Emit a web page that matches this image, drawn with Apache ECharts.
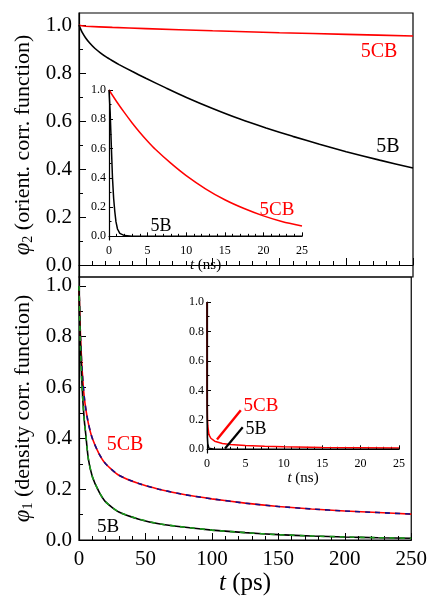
<!DOCTYPE html>
<html><head><meta charset="utf-8">
<script src="https://cdn.jsdelivr.net/npm/echarts@6/dist/echarts.min.js"></script>
<style>html,body{margin:0;padding:0;background:#fff}#c{width:430px;height:599px}</style>
</head><body><div id="c"></div>
<script>
// ---- data: top panel, orientational correlation (t in ps) ----
const tTop5B  = [0, 1, 2.5, 5, 8, 12, 16, 20, 25, 30, 40, 50, 65, 80, 100, 120, 140, 160, 180, 200, 225, 250];
const phi2_5B = [1.0, 0.986, 0.968, 0.946, 0.925, 0.902, 0.884, 0.868, 0.851, 0.835, 0.806, 0.778, 0.738, 0.699, 0.652, 0.609, 0.571, 0.536, 0.503, 0.472, 0.437, 0.404];
const tTop5CB  = [0, 1, 5, 25, 50, 100, 150, 200, 250];
const phi2_5CB = [1.0, 0.998, 0.995, 0.99, 0.985, 0.976, 0.968, 0.961, 0.954];
// inset (t in ns)
const tInTop5B  = [0, 0.15, 0.3, 0.45, 0.6, 0.75, 0.9, 1.1, 1.4, 2, 3, 5, 10, 15, 20, 25];
const phi2ns_5B = [1.0, 0.85, 0.62, 0.4, 0.26, 0.17, 0.1, 0.05, 0.02, 0.005, 0, 0, 0, 0, 0, 0];
const tInTop5CB  = [0, 1, 2, 3, 4, 5, 6, 8, 10, 12.5, 15, 17.5, 20, 22.5, 25];
const phi2ns_5CB = [1.0, 0.92, 0.845, 0.775, 0.71, 0.65, 0.595, 0.5, 0.415, 0.325, 0.25, 0.19, 0.14, 0.1, 0.07];

// ---- data: bottom panel, density correlation (t in ps) ----
const tBot = [0, 0.5, 1, 2, 3, 4, 5, 7, 10, 15, 20, 30, 45, 60, 80, 100, 125, 150, 175, 200, 225, 250];
const phi1_5CB = [1.0, 0.9, 0.82, 0.7, 0.62, 0.56, 0.52, 0.46, 0.4, 0.34, 0.3, 0.255, 0.222, 0.2, 0.178, 0.162, 0.145, 0.132, 0.122, 0.114, 0.108, 0.102];
const phi1_5B  = [1.0, 0.88, 0.78, 0.64, 0.54, 0.47, 0.42, 0.32, 0.25, 0.19, 0.15, 0.11, 0.082, 0.064, 0.05, 0.039, 0.029, 0.021, 0.016, 0.012, 0.009, 0.007];
const fit_5CB = phi1_5CB;  // fitted curve (dashed), indistinguishable from data
const fit_5B  = phi1_5B;
// inset (t in ns)
const tInBot5CB  = [0, 0.01, 0.05, 0.1, 0.25, 0.5, 1, 2, 3, 5, 7.5, 10, 15, 20, 25];
const phi1ns_5CB = [1.0, 0.4, 0.22, 0.162, 0.1, 0.075, 0.055, 0.04, 0.033, 0.026, 0.02, 0.017, 0.013, 0.011, 0.009];
const tInBot5B  = [0, 0.01, 0.05, 0.1, 0.25, 0.5, 1, 2, 25];
const phi1ns_5B = [1.0, 0.27, 0.08, 0.039, 0.007, 0.003, 0.001, 0, 0];

// ---- tick labels ----
const yMajor = [0, 0.2, 0.4, 0.6, 0.8, 1.0];
const yMinor = [0.1, 0.3, 0.5, 0.7, 0.9];

const F = '"Liberation Serif", "Times New Roman", Times, serif';
const RED = '#ff0000', BLK = '#000000', BLUE = '#10108a', GRN = '#1a9a1a';
const pairs = (xs, ys) => xs.map((x, i) => [x, ys[i]]);

function xAx(grid, max, interval, opts) {
  return Object.assign({
    gridIndex: grid, type: 'value', min: 0, max: max, interval: interval,
    axisLine: { lineStyle: { color: '#000', width: 1.2 } },
    axisTick: { inside: true, length: opts.tl, lineStyle: { color: '#000', width: 1 } },
    minorTick: { show: true, splitNumber: 5, length: opts.ml, lineStyle: { color: '#000', width: 1 } },
    splitLine: { show: false },
    axisLabel: { show: opts.lab, fontFamily: F, fontSize: opts.fs, color: '#000', margin: opts.mg }
  }, opts.extra || {});
}
function yAxMajor(grid, min, max, opts) {
  return Object.assign({
    gridIndex: grid, type: 'value', min: min, max: max, position: 'left',
    axisLine: { show: true, lineStyle: { color: '#000', width: 1.2 } },
    axisTick: { show: true, inside: true, length: opts.tl, customValues: yMajor, lineStyle: { color: '#000', width: 1 } },
    axisLabel: { show: true, customValues: yMajor, formatter: v => Number(v).toFixed(1), fontFamily: F, fontSize: opts.fs, color: '#000', margin: opts.mg },
    splitLine: { show: false }
  }, opts.extra || {});
}
function yAxMinor(grid, min, max, len) {
  return {
    gridIndex: grid, type: 'value', min: min, max: max, position: 'left', offset: 0,
    axisLine: { show: false },
    axisTick: { show: true, inside: true, length: len, customValues: yMinor, lineStyle: { color: '#000', width: 1 } },
    axisLabel: { show: false },
    splitLine: { show: false }
  };
}

const nameRich = {
  phi: { fontFamily: F, fontSize: 23, fontStyle: 'italic', color: '#000' },
  sub: { fontFamily: F, fontSize: 14, color: '#000', verticalAlign: 'bottom', padding: [10, 0, 0, 0] },
  it: { fontFamily: F, fontSize: 25, fontStyle: 'italic', color: '#000' },
  its: { fontFamily: F, fontSize: 15, fontStyle: 'italic', color: '#000' }
};
const lbl = (x, y, text, color, size) => ({ type: 'text', x: x, y: y,
  style: { text: text, fill: color, fontFamily: F, fontSize: size, align: 'center', verticalAlign: 'middle' } });

const option = {
  animation: false,
  backgroundColor: '#fff',
  textStyle: { fontFamily: F },
  grid: [
    { left: 79, top: 13, width: 334, height: 264, show: true, borderColor: '#000', borderWidth: 1.2, backgroundColor: 'transparent' },
    { left: 79, top: 277, width: 334, height: 263, show: true, borderColor: '#000', borderWidth: 1.2, backgroundColor: 'transparent' },
    { left: 109, top: 90, width: 193, height: 150 },
    { left: 207, top: 302, width: 192, height: 151 }
  ],
  xAxis: [
    xAx(0, 250, 50, { tl: 7, ml: 4, lab: false, fs: 21, mg: 9 }),
    xAx(1, 250, 50, { tl: 7, ml: 4, lab: true, fs: 21, mg: 9,
      extra: { name: '{it|t} (ps)', nameLocation: 'middle', nameGap: 30,
        nameTextStyle: { fontFamily: F, fontSize: 25, color: '#000', rich: nameRich } } }),
    xAx(2, 25, 5, { tl: 4, ml: 2.5, lab: true, fs: 12, mg: 5,
      extra: { name: '{its|t} (ns)', nameLocation: 'middle', nameGap: 16,
        nameTextStyle: { fontFamily: F, fontSize: 15, color: '#000', rich: nameRich } } }),
    xAx(3, 25, 5, { tl: 4, ml: 2.5, lab: true, fs: 12, mg: 5,
      extra: { name: '{its|t} (ns)', nameLocation: 'middle', nameGap: 16,
        nameTextStyle: { fontFamily: F, fontSize: 15, color: '#000', rich: nameRich } } })
  ],
  yAxis: [
    yAxMajor(0, -0.05, 1.05, { tl: 7, fs: 21, mg: 7, extra: {
      name: '{phi|φ}{sub|2} (orient. corr. function)', nameLocation: 'middle', nameRotate: 90, nameGap: 44,
      nameTextStyle: { fontFamily: F, fontSize: 22, color: '#000', rich: nameRich } } }),
    yAxMinor(0, -0.05, 1.05, 4),
    yAxMajor(1, 0, 1.035, { tl: 7, fs: 21, mg: 7, extra: {
      name: '{phi|φ}{sub|1} (density corr. function)', nameLocation: 'middle', nameRotate: 90, nameGap: 44,
      nameTextStyle: { fontFamily: F, fontSize: 22, color: '#000', rich: nameRich } } }),
    yAxMinor(1, 0, 1.035, 4),
    yAxMajor(2, -0.025, 1.0, { tl: 4, fs: 12, mg: 3 }),
    yAxMinor(2, -0.025, 1.0, 2.5),
    yAxMajor(3, -0.025, 1.0, { tl: 4, fs: 12, mg: 3 }),
    yAxMinor(3, -0.025, 1.0, 2.5)
  ],
  series: [
    { type: 'line', xAxisIndex: 0, yAxisIndex: 0, data: pairs(tTop5CB, phi2_5CB), showSymbol: false, smooth: 0.2, lineStyle: { color: RED, width: 1.6 } },
    { type: 'line', xAxisIndex: 0, yAxisIndex: 0, data: pairs(tTop5B, phi2_5B), showSymbol: false, smooth: 0.2, lineStyle: { color: BLK, width: 1.6 } },
    { type: 'line', xAxisIndex: 2, yAxisIndex: 4, data: pairs(tInTop5CB, phi2ns_5CB), showSymbol: false, smooth: 0.2, lineStyle: { color: RED, width: 1.5 } },
    { type: 'line', xAxisIndex: 2, yAxisIndex: 4, data: pairs(tInTop5B, phi2ns_5B), showSymbol: false, lineStyle: { color: BLK, width: 1.5 } },
    { type: 'line', xAxisIndex: 1, yAxisIndex: 2, data: pairs(tBot, phi1_5CB), showSymbol: false, smooth: 0.2, lineStyle: { color: RED, width: 1.6 } },
    { type: 'line', xAxisIndex: 1, yAxisIndex: 2, data: pairs(tBot, fit_5CB), showSymbol: false, smooth: 0.2, lineStyle: { color: BLUE, width: 1.6, type: [5, 5] } },
    { type: 'line', xAxisIndex: 1, yAxisIndex: 2, data: pairs(tBot, phi1_5B), showSymbol: false, smooth: 0.2, lineStyle: { color: BLK, width: 1.6 } },
    { type: 'line', xAxisIndex: 1, yAxisIndex: 2, data: pairs(tBot, fit_5B), showSymbol: false, smooth: 0.2, lineStyle: { color: GRN, width: 1.6, type: [5, 5] } },
    { type: 'line', xAxisIndex: 3, yAxisIndex: 6, data: pairs(tInBot5CB, phi1ns_5CB), showSymbol: false, lineStyle: { color: RED, width: 1.5 },
      markLine: { silent: true, symbol: ['none', 'arrow'], symbolSize: [1, 12], label: { show: false },
        lineStyle: { color: RED, width: 2.4, type: 'solid' },
        data: [[{ coord: [4.4, 0.265] }, { coord: [1.3, 0.066] }]] } },
    { type: 'line', xAxisIndex: 3, yAxisIndex: 6, data: pairs(tInBot5B, phi1ns_5B), showSymbol: false, lineStyle: { color: BLK, width: 1.5 },
      markLine: { silent: true, symbol: ['none', 'arrow'], symbolSize: [1, 11], label: { show: false },
        lineStyle: { color: BLK, width: 2.2, type: 'solid' },
        data: [[{ coord: [4.65, 0.15] }, { coord: [2.35, 0.006] }]] } }
  ],
  graphic: [
    lbl(379, 52, '5CB', RED, 20),
    lbl(388, 147, '5B', BLK, 20),
    lbl(277, 210, '5CB', RED, 19),
    lbl(161, 226, '5B', BLK, 18),
    lbl(125, 445, '5CB', RED, 20),
    lbl(108, 527, '5B', BLK, 19),
    lbl(261, 406, '5CB', RED, 19),
    lbl(256, 429, '5B', BLK, 18)
  ]
};
const chart = echarts.init(document.getElementById('c'), null, { renderer: 'canvas' });
chart.setOption(option);
</script>
</body></html>
